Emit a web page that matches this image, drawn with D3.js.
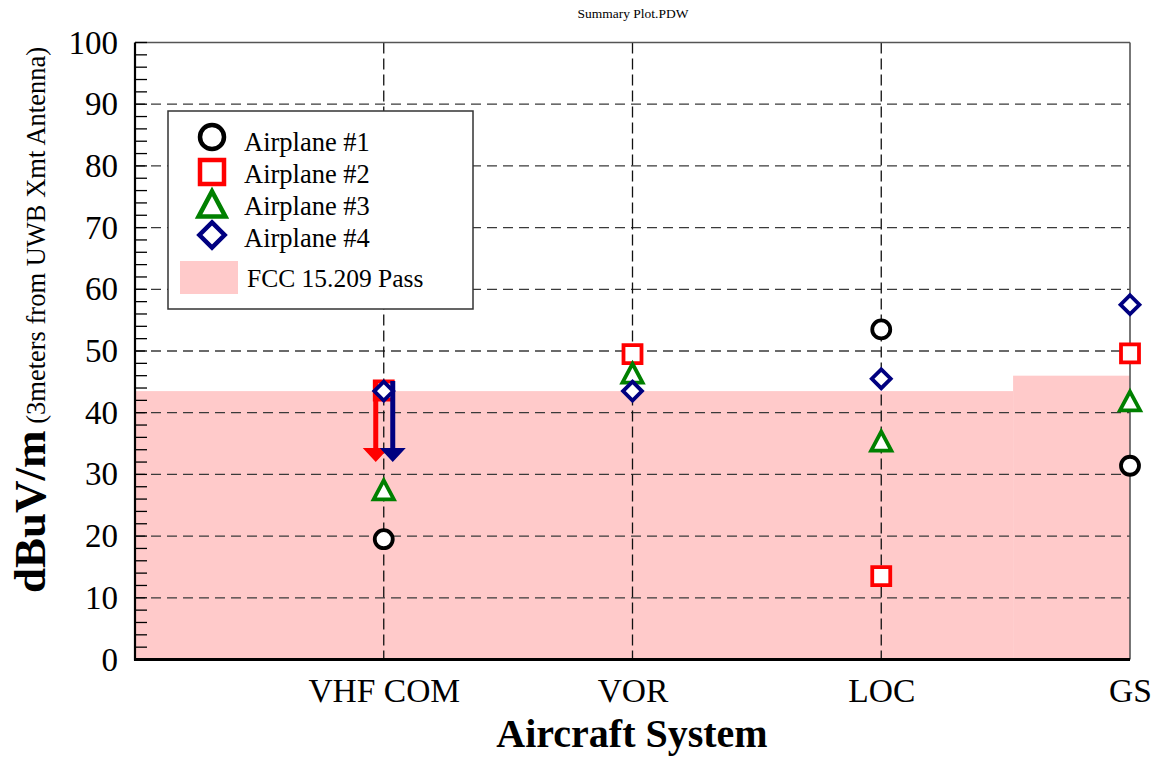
<!DOCTYPE html>
<html>
<head>
<meta charset="utf-8">
<script src="https://cdn.jsdelivr.net/npm/d3@7"></script>
<style>
  html, body { margin: 0; padding: 0; background: #fff; }
  svg { display: block; font-family: "Liberation Serif", "Times New Roman", serif; }
</style>
</head>
<body>
<svg id="chart" width="1156" height="757"></svg>
<script>
// ---------- data ----------
const categories = ["VHF COM", "VOR", "LOC", "GS"];
const airplane1 = [19.5, null, 53.5, 31.4];
const airplane2 = [43.6, 49.5, 13.5, 49.6];
const airplane3 = [27.5, 46.4, 35.4, 41.9];
const airplane4 = [43.5, 43.5, 45.5, 57.5];
const seriesNames = ["Airplane #1", "Airplane #2", "Airplane #3", "Airplane #4"];
const yTicks = [0, 10, 20, 30, 40, 50, 60, 70, 80, 90, 100];
// FCC 15.209 limit (pass region), as steps along the category axis (0 = left edge, 1..4 = categories)
const fccStepStart = [0, 3.53];
const fccStepEnd = [3.53, 4];
const fccLevel = [43.5, 46];
// "less than" arrows: series index, category, from value, to value
const arrowSeries = [1, 3];
const arrowCategory = ["VHF COM", "VHF COM"];
const arrowFrom = [43.6, 43.5];
const arrowTo = [32, 32];

// ---------- layout ----------
const svg = d3.select("#chart");
const L = 135, R = 1130, T = 42.5, B = 659.5;
const x = d3.scaleLinear().domain([0, categories.length]).range([L, R]);
const xc = c => x(categories.indexOf(c) + 1);
const y = d3.scaleLinear().domain([0, 100]).range([B, T]);

const colors = ["#000000", "#ff0000", "#008000", "#000080"];

// title
svg.append("text").attr("x", 633).attr("y", 18).attr("text-anchor", "middle")
  .attr("font-size", 13.5).text("Summary Plot.PDW");

// FCC fill
const fcc = fccLevel.map((v, i) => ({ x0: fccStepStart[i], x1: fccStepEnd[i], v }));
svg.append("g").selectAll("rect").data(fcc).join("rect")
  .attr("x", d => x(d.x0)).attr("width", d => x(d.x1) - x(d.x0))
  .attr("y", d => y(d.v)).attr("height", d => y(0) - y(d.v))
  .attr("fill", "#ffcaca");

// horizontal grid
svg.append("g").selectAll("line").data(yTicks.filter(t => t > 0 && t < 100)).join("line")
  .attr("x1", L).attr("x2", R).attr("y1", d => y(d)).attr("y2", d => y(d))
  .attr("stroke", "#3a3a3a").attr("stroke-width", 1.3).attr("stroke-dasharray", "10,6");
// vertical grid
svg.append("g").selectAll("line").data(categories.slice(0, 3)).join("line")
  .attr("x1", d => xc(d)).attr("x2", d => xc(d)).attr("y1", T).attr("y2", B)
  .attr("stroke", "#111").attr("stroke-width", 1.3).attr("stroke-dasharray", "11,5");

// frame: top & right gray
svg.append("line").attr("x1", L).attr("x2", R).attr("y1", T).attr("y2", T)
  .attr("stroke", "#555").attr("stroke-width", 1.6);
svg.append("line").attr("x1", R).attr("x2", R).attr("y1", T).attr("y2", B)
  .attr("stroke", "#555").attr("stroke-width", 1.6);

// y axis with minor ticks (inward)
const yAxis = d3.axisLeft(y).tickValues(yTicks).tickSize(0).tickPadding(17).tickFormat(d3.format("d"));
const gy = svg.append("g").attr("transform", `translate(${L},0)`).call(yAxis);
gy.select(".domain").remove();
gy.selectAll("text").attr("font-size", 33).attr("font-family", "Liberation Serif").attr("fill", "#000");
const minor = d3.range(0, 101, 2);
svg.append("g").selectAll("line").data(minor).join("line")
  .attr("x1", L).attr("x2", L + 12).attr("y1", d => y(d)).attr("y2", d => y(d))
  .attr("stroke", "#000").attr("stroke-width", 1.3);
svg.append("line").attr("x1", L).attr("x2", L).attr("y1", T).attr("y2", B + 1)
  .attr("stroke", "#000").attr("stroke-width", 2.2);

// x axis
const xAxis = d3.axisBottom(x).tickValues(d3.range(1, categories.length + 1))
  .tickSize(0).tickPadding(19).tickFormat(i => categories[i - 1]);
const gx = svg.append("g").attr("transform", `translate(0,${B})`).call(xAxis);
gx.select(".domain").remove();
gx.selectAll("text").attr("font-size", 33.5).attr("font-family", "Liberation Serif").attr("fill", "#000");
svg.append("line").attr("x1", L - 1).attr("x2", R).attr("y1", B).attr("y2", B)
  .attr("stroke", "#000").attr("stroke-width", 3);

// axis titles
svg.append("text").attr("x", 632).attr("y", 747).attr("text-anchor", "middle")
  .attr("font-size", 40).attr("font-weight", "bold").text("Aircraft System");
const yl = svg.append("text").attr("transform", "translate(45,320) rotate(-90)")
  .attr("text-anchor", "middle");
yl.append("tspan").attr("font-size", 45).attr("font-weight", "bold").text("dBuV/m");
yl.append("tspan").attr("font-size", 26.5).text(" (3meters from UWB Xmt Antenna)");

// ---------- markers ----------
function markerPath(kind, s) {
  if (kind === 1) return `M${-s},${-s}H${s}V${s}H${-s}Z`;
  if (kind === 2) { const h = s * 1.05; return `M0,${-h}L${s * 1.12},${h}L${-s * 1.12},${h}Z`; }
  return `M0,${-s * 1.05}L${s * 1.05},0L0,${s * 1.05}L${-s * 1.05},0Z`;
}
function drawMarker(g, kind, cx, cy, s, sw) {
  if (kind === 0) {
    g.append("circle").attr("cx", cx).attr("cy", cy).attr("r", s)
      .attr("fill", "#fff").attr("stroke", colors[0]).attr("stroke-width", sw);
  } else {
    g.append("path").attr("d", markerPath(kind, s)).attr("transform", `translate(${cx},${cy})`)
      .attr("fill", "#fff").attr("stroke", colors[kind]).attr("stroke-width", sw)
      .attr("stroke-linejoin", "miter");
  }
}
const allSeries = [airplane1, airplane2, airplane3, airplane4];
const mg = svg.append("g");
const offsets = [-8, 9];
function drawSeries(k) {
  allSeries[k].forEach((v, i) => {
    if (v == null) return;
    drawMarker(mg, k, x(i + 1), y(v), 9, 3.8);
  });
}
drawSeries(0); drawSeries(1); drawSeries(2);
// arrows
arrowSeries.forEach((s, i) => {
  const cx = xc(arrowCategory[i]) + offsets[i];
  const y0 = y(arrowFrom[i]) - 10, yTip = y(arrowTo[i]), headH = 14, headW = 13;
  mg.append("path")
    .attr("d", `M${cx - 2.5},${y0}H${cx + 2.5}V${yTip - headH}H${cx + headW}L${cx},${yTip}L${cx - headW},${yTip - headH}H${cx - 2.5}Z`)
    .attr("fill", colors[s]);
});
drawSeries(3);

// ---------- legend ----------
const lg = svg.append("g");
lg.append("rect").attr("x", 168).attr("y", 111).attr("width", 305).attr("height", 198)
  .attr("fill", "#fff").attr("stroke", "#333").attr("stroke-width", 1.5);
const symY = [137, 172, 204, 235];
const txtY = [151, 183, 215, 247];
seriesNames.forEach((n, k) => {
  drawMarker(lg, k, 212, symY[k], 12, 4.5);
  lg.append("text").attr("x", 244).attr("y", txtY[k]).attr("font-size", 26.5).text(n);
});
lg.append("rect").attr("x", 180).attr("y", 261).attr("width", 58).attr("height", 33).attr("fill", "#ffcaca");
lg.append("text").attr("x", 247).attr("y", 287).attr("font-size", 25.5).text("FCC 15.209 Pass");
</script>
</body>
</html>
